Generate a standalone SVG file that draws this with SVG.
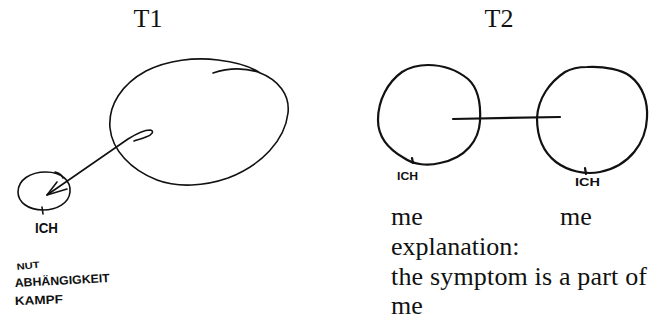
<svg xmlns="http://www.w3.org/2000/svg" width="663" height="321" viewBox="0 0 663 321">
<style>
.title{font-family:"Liberation Serif","DejaVu Serif",serif;font-size:26px;fill:#111;}
.body{font-family:"Liberation Serif","DejaVu Serif",serif;font-size:26px;fill:#111;}
.hand{font-family:"Liberation Sans","DejaVu Sans",sans-serif;font-weight:bold;fill:#111;}
.ink{fill:none;stroke:#111;stroke-linecap:round;stroke-linejoin:round;}
.thin{stroke-width:1.6;}
.thick{stroke-width:2.2;}
</style>
<rect width="663" height="321" fill="#fff"/>
<text class="title" x="148" y="27" text-anchor="middle">T1</text>
<text class="title" x="499" y="27" text-anchor="middle">T2</text>

<g id="t1-big">
<path class="ink thin" d="M213,73 C228,68 245,68 258,72 C279,80 290,95 288,113 C285,140 262,165 228,178 C205,186 178,188 157,180 C131,170 112,150 110,128 C108,105 122,84 146,71 C168,60 195,57 218,60 C235,62 250,66 260,73"/>
</g>
<g id="t1-small">
<path class="ink thin" d="M18,192 C18,180 30,172 46,172 C62,172 71,181 70,192 C69,203 57,210 43,210 C28,210 18,202 18,192 Z"/>
<path class="ink thin" d="M55,172 C59,173 62,175 63,178"/>
<path class="ink thin" d="M42,207 L43,214"/>
<text class="hand" x="35" y="233" font-size="14" textLength="23" lengthAdjust="spacingAndGlyphs">ICH</text>
</g>
<g id="t1-words">
<text class="hand" x="17" y="270" font-size="9" textLength="23" lengthAdjust="spacingAndGlyphs" transform="rotate(-6 17 270)">NUT</text>
<text class="hand" x="15" y="287" font-size="12" textLength="95" lengthAdjust="spacingAndGlyphs" transform="rotate(-3 15 287)">ABHÄNGIGKEIT</text>
<text class="hand" x="15" y="305" font-size="12" textLength="48" lengthAdjust="spacingAndGlyphs" transform="rotate(-2 15 305)">KAMPF</text>
</g>
<g id="connectors">
<path class="ink thin" d="M47,195 L128,139 C136,134 144,130 150,130 C155,131 152,135 146,137 C141,139 137,140 134,141"/>
<path class="ink thin" d="M47,195 L57,182 M47,195 L67,189"/>
<path class="ink thick" d="M453,119 L560,117"/>
</g>

<g id="t2-left">
<path class="ink thick" d="M428,65 C445,65 458,71 468,79 C478,88 481,104 480,121 C479,140 466,158 440,163 C428,166 414,165 404,158 C388,149 378,136 378,120 C378,100 388,82 402,72 C410,67 419,65 428,65 Z"/>
<path class="ink thick" d="M412,158 L413,163"/>
<text class="hand" x="397" y="180" font-size="10" textLength="21" lengthAdjust="spacingAndGlyphs">ICH</text>
</g>
<g id="t2-right">
<path class="ink thick" d="M587,67 C605,66 622,70 630,76 C643,86 648,102 647,118 C646,142 630,166 600,172 C585,175 568,171 556,162 C543,152 537,136 537,118 C538,98 550,82 565,72 C572,68 580,67 587,67 Z"/>
<path class="ink thick" d="M585,168 L586,174"/>
<text class="hand" x="575" y="186" font-size="10" textLength="25" lengthAdjust="spacingAndGlyphs">ICH</text>
</g>

<g id="t2-text">
<text class="body" x="391" y="225">me</text>
<text class="body" x="560" y="225">me</text>
<text class="body" x="391" y="255">explanation:</text>
<text class="body" x="391" y="285" textLength="256" lengthAdjust="spacing">the symptom is a part of</text>
<text class="body" x="391" y="314">me</text>
</g>
</svg>
